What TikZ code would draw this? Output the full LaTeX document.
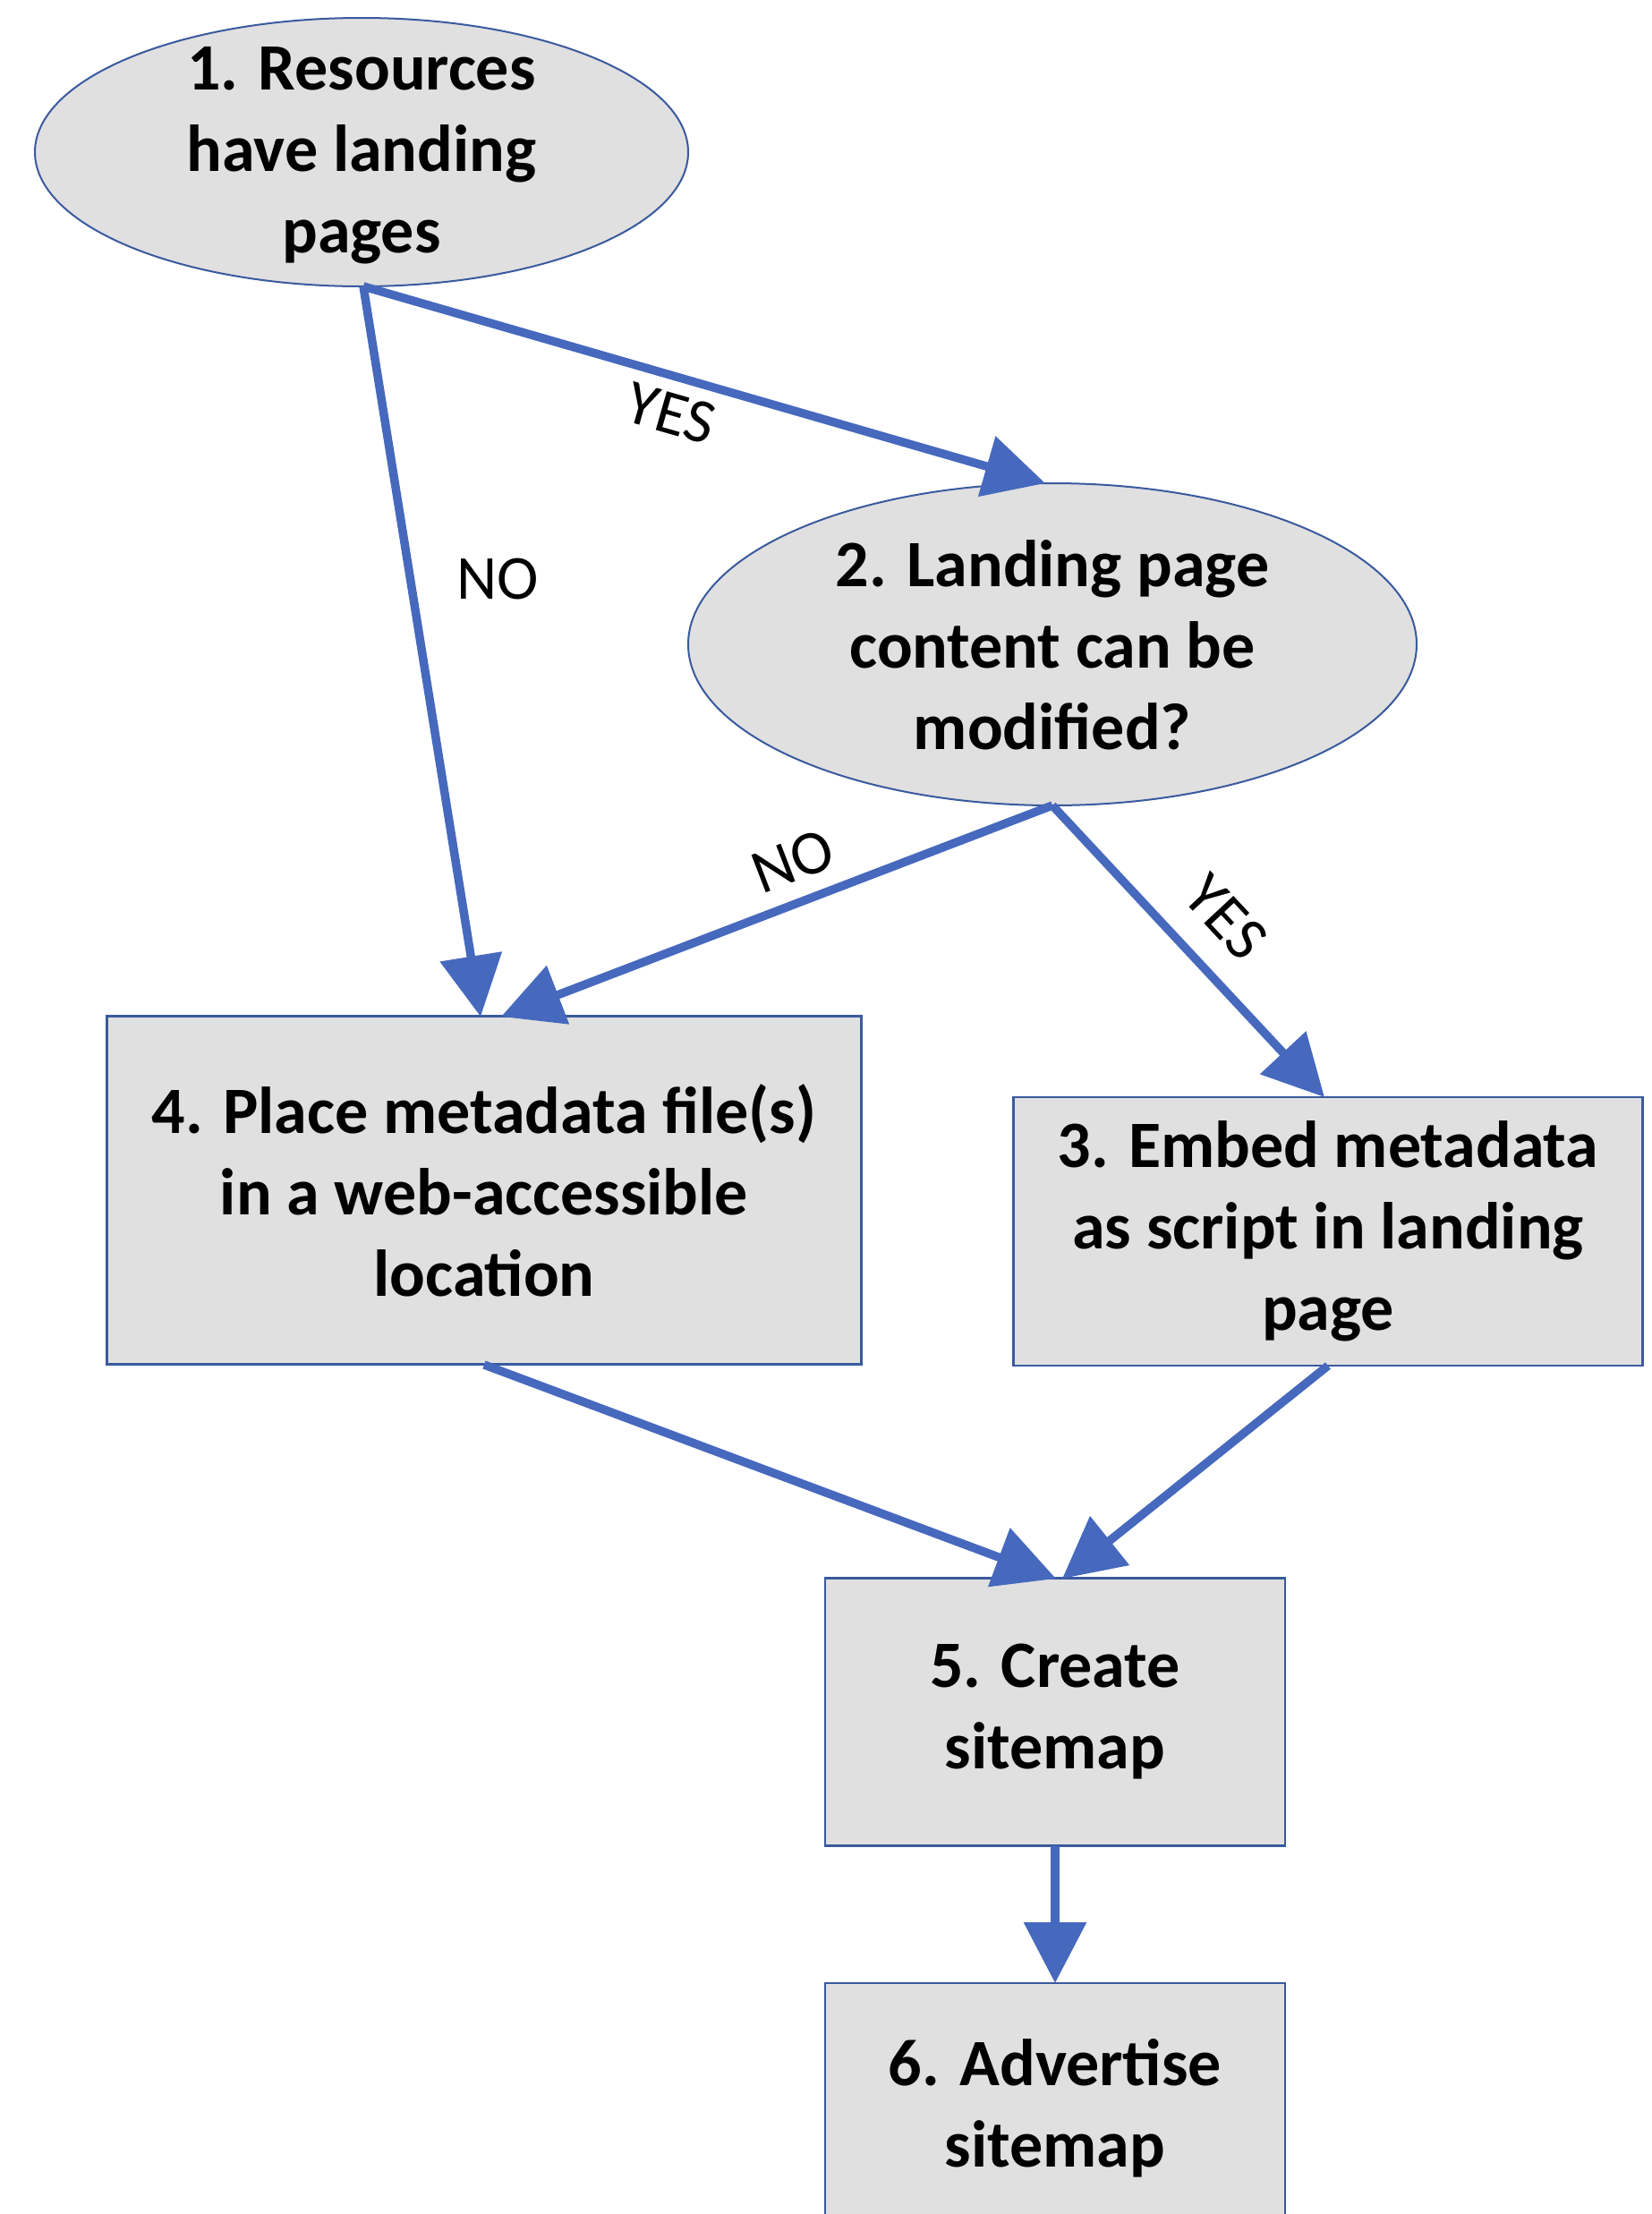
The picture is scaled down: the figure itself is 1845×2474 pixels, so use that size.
\documentclass[tikz,border=0pt]{standalone}
\usepackage{fontspec}
\setmainfont{Carlito}
\usetikzlibrary{shapes.geometric,arrows.meta}
\definecolor{lineblue}{HTML}{4669BE}
\definecolor{edgeblue}{HTML}{3A5A9E}
\definecolor{boxfill}{HTML}{E0E0E0}
\tikzset{
  flowell/.style={ellipse, draw=edgeblue, line width=2pt, fill=boxfill, inner sep=0pt},
  flowbox/.style={rectangle, draw=edgeblue, line width=2.5pt, fill=boxfill, inner sep=0pt,
    font=\fontsize{74}{91}\selectfont\bfseries, align=center},
  flowtext/.style={font=\fontsize{74}{91}\selectfont\bfseries, align=center, inner sep=0pt},
  flowarrow/.style={draw=lineblue, line width=9.5pt, -{Triangle[length=68pt,width=68pt]}},
  flowlabel/.style={font=\fontsize{70}{84}\selectfont, inner sep=0pt}
}
\begin{document}
\begin{tikzpicture}[x=1pt,y=-1pt]
\useasboundingbox (0,0) rectangle (1845,2474);
\clip (0,0) rectangle (1845,2474);
% nodes
\node[flowell, minimum width=730pt, minimum height=300pt] (e1) at (404,170) {};
\node[flowtext] (t1) at (404,174) {1. Resources\\have landing\\pages};
\node[flowell, minimum width=814pt, minimum height=360pt] (e2) at (1176,720) {};
\node[flowtext] (t2) at (1176,721) {2. Landing page\\content can be\\modified?};
\node[flowbox, minimum width=843pt, minimum height=389pt] (b4) at (541,1330) {4. Place metadata file(s)\\in a web-accessible\\location};
\node[flowbox, minimum width=703pt, minimum height=300pt] (b3) at (1484,1376) {3. Embed metadata\\as script in landing\\page};
\node[flowbox, minimum width=514pt, minimum height=299pt] (b5) at (1179,1913) {5. Create\\sitemap};
\node[flowbox, minimum width=514pt, minimum height=400pt] (b6) at (1179,2416) {};
\node[flowtext] (t6) at (1179,2356) {6. Advertise\\sitemap};
% anchor points
\coordinate (e1b) at (406,320);
\coordinate (e2t) at (1168,540);
\coordinate (e2b) at (1176,900);
\coordinate (b4tl) at (537,1136);
\coordinate (b4tr) at (560,1136);
\coordinate (b3t) at (1480,1226);
\coordinate (b4b) at (541,1525);
\coordinate (b3b) at (1484,1526);
\coordinate (b5tl) at (1180,1764);
\coordinate (b5tr) at (1187,1764);
\coordinate (b5b) at (1179,2063);
\coordinate (b6t) at (1179,2216);
% connectors
\draw[flowarrow] (e1b) -- (b4tl);
\draw[flowarrow] (e1b) -- (e2t);
\draw[flowarrow] (e2b) -- (b4tr);
\draw[flowarrow] (e2b) -- (b3t);
\draw[flowarrow] (b4b) -- (b5tl);
\draw[flowarrow] (b3b) -- (b5tr);
\draw[flowarrow] (b5b) -- (b6t);
% labels
\node[flowlabel, rotate=-16] (l1) at (750,462) {YES};
\node[flowlabel] (l2) at (556,647) {NO};
\node[flowlabel, rotate=21] (l3) at (886,962) {NO};
\node[flowlabel, rotate=-47] (l4) at (1370,1025) {YES};
\end{tikzpicture}
\end{document}
